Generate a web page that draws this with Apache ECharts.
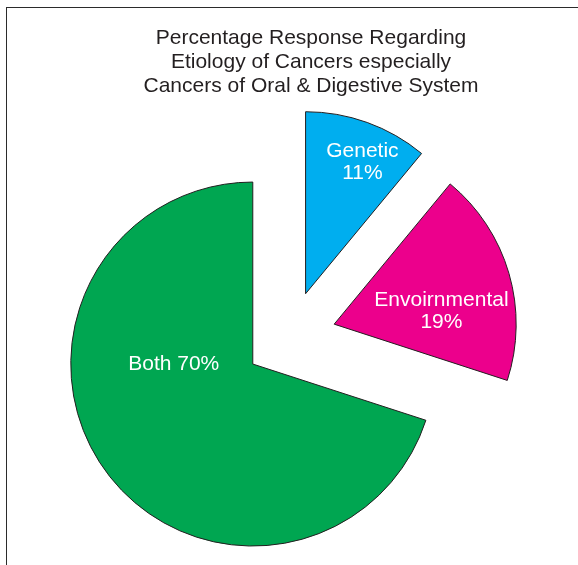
<!DOCTYPE html>
<html>
<head>
<meta charset="utf-8">
<script src="https://cdn.jsdelivr.net/npm/echarts@6/dist/echarts.min.js"></script>
<style>
html,body{margin:0;padding:0;background:#fff;}
#wrap{position:relative;width:578px;height:565px;overflow:hidden;}
#frame{position:absolute;left:6px;top:7px;width:600px;height:600px;border-left:1.5px solid #2b2b2b;border-top:1.5px solid #2b2b2b;box-sizing:border-box;}
#chart{position:absolute;left:0;top:0;width:578px;height:565px;}
</style>
</head>
<body>
<div id="wrap"><div id="frame"></div><div id="chart"></div></div>
<script>
const titleLines = ['Percentage Response Regarding', 'Etiology of Cancers especially', 'Cancers of Oral & Digestive System'];
const categories = ['Genetic', 'Envoirnmental', 'Both'];
const values = [11, 19, 70];
const colors = ['#00AEEF', '#EC008C', '#00A651'];
const labelStyles = ['stack', 'stack', 'inline'];
const labelShift = [[25, -43], [17, 13], [-3, -55]];

const chart = echarts.init(document.getElementById('chart'), null, {renderer: 'canvas'});
const data = categories.map((c, i) => ({
  name: c,
  value: values[i],
  selected: true,
  itemStyle: {color: colors[i]},
  select: {itemStyle: {color: colors[i]}}
}));
chart.setOption({
  animation: false,
  title: {
    text: titleLines.join('\n'),
    left: 306,
    top: 21,
    textAlign: 'center',
    textStyle: {fontFamily: 'Liberation Sans, Arial, sans-serif', fontSize: 21, fontWeight: 'normal', color: '#231f20', lineHeight: 24}
  },
  series: [{
    type: 'pie',
    center: [290, 337],
    radius: [0, 182],
    startAngle: 90,
    clockwise: true,
    selectedMode: 'multiple',
    selectedOffset: 46,
    avoidLabelOverlap: false,
    emphasis: {disabled: true},
    itemStyle: {borderColor: '#231f20', borderWidth: 1},
    label: {
      show: true,
      position: 'inside',
      color: '#ffffff',
      fontFamily: 'Liberation Sans, Arial, sans-serif',
      fontSize: 21,
      lineHeight: 22,
      formatter: p => labelStyles[p.dataIndex] === 'stack' ? p.name + '\n' + p.value + '%' : p.name + ' ' + p.value + '%'
    },
    labelLayout: p => ({dx: labelShift[p.dataIndex][0], dy: labelShift[p.dataIndex][1]}),
    labelLine: {show: false},
    data: data
  }]
});
</script>
</body>
</html>
